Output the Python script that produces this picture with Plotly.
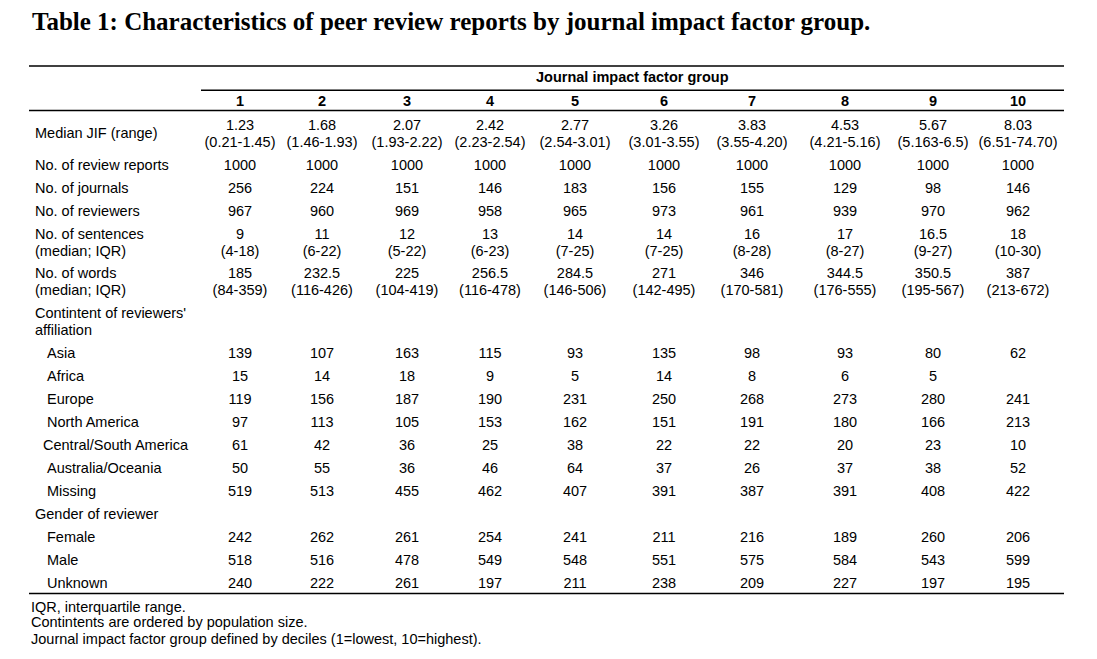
import plotly.graph_objects as go

# ---------------- data ----------------
groups = ["1", "2", "3", "4", "5", "6", "7", "8", "9", "10"]
median_jif = ["1.23", "1.68", "2.07", "2.42", "2.77", "3.26", "3.83", "4.53", "5.67", "8.03"]
jif_range = ["0.21-1.45", "1.46-1.93", "1.93-2.22", "2.23-2.54", "2.54-3.01",
             "3.01-3.55", "3.55-4.20", "4.21-5.16", "5.163-6.5", "6.51-74.70"]
n_reports = [1000, 1000, 1000, 1000, 1000, 1000, 1000, 1000, 1000, 1000]
n_journals = [256, 224, 151, 146, 183, 156, 155, 129, 98, 146]
n_reviewers = [967, 960, 969, 958, 965, 973, 961, 939, 970, 962]
sent_median = [9, 11, 12, 13, 14, 14, 16, 17, 16.5, 18]
sent_iqr = ["4-18", "6-22", "5-22", "6-23", "7-25", "7-25", "8-28", "8-27", "9-27", "10-30"]
words_median = [185, 232.5, 225, 256.5, 284.5, 271, 346, 344.5, 350.5, 387]
words_iqr = ["84-359", "116-426", "104-419", "116-478", "146-506",
             "142-495", "170-581", "176-555", "195-567", "213-672"]
asia = [139, 107, 163, 115, 93, 135, 98, 93, 80, 62]
africa = [15, 14, 18, 9, 5, 14, 8, 6, 5, None]
europe = [119, 156, 187, 190, 231, 250, 268, 273, 280, 241]
north_america = [97, 113, 105, 153, 162, 151, 191, 180, 166, 213]
central_south_america = [61, 42, 36, 25, 38, 22, 22, 20, 23, 10]
australia_oceania = [50, 55, 36, 46, 64, 37, 26, 37, 38, 52]
missing = [519, 513, 455, 462, 407, 391, 387, 391, 408, 422]
female = [242, 262, 261, 254, 241, 211, 216, 189, 260, 206]
male = [518, 516, 478, 549, 548, 551, 575, 584, 543, 599]
unknown = [240, 222, 261, 197, 211, 238, 209, 227, 197, 195]

title_text = "Table 1: Characteristics of peer review reports by journal impact factor group."
spanner_text = "Journal impact factor group"
footnotes = ["IQR, interquartile range.",
             "Contintents are ordered by population size.",
             "Journal impact factor group defined by deciles (1=lowest, 10=highest)."]


def fmt(v):
    if v is None:
        return ""
    if isinstance(v, float):
        return f"{v:g}"
    return str(v)


def paren(vals):
    return ["(" + v + ")" for v in vals]


# ---------------- layout (pixel positions of the page) ----------------
W, H = 1097, 659
OFF = 8  # page body margin of the browser
col_x = [240, 322, 407, 490, 575, 664, 752, 845, 933, 1018]
LABEL_X = 34
SUB_X = 46
FONT = "Liberation Sans, Arial, sans-serif"
FS = 14.5
DY = 1.2  # small vertical nudge of trace text relative to annotations

rows = [
    ([("Median JIF (range)", LABEL_X, 133.4)],
     [(125, median_jif), (141.7, paren(jif_range))]),
    ([("No. of review reports", LABEL_X, 165)], [(165, [fmt(v) for v in n_reports])]),
    ([("No. of journals", LABEL_X, 188.3)], [(188.3, [fmt(v) for v in n_journals])]),
    ([("No. of reviewers", LABEL_X, 211)], [(211, [fmt(v) for v in n_reviewers])]),
    ([("No. of sentences", LABEL_X, 234), ("(median; IQR)", LABEL_X, 250.7)],
     [(234, [fmt(v) for v in sent_median]), (250.7, paren(sent_iqr))]),
    ([("No. of words", LABEL_X, 273.3), ("(median; IQR)", LABEL_X, 290)],
     [(273.3, [fmt(v) for v in words_median]), (290, paren(words_iqr))]),
    ([("Contintent of reviewers'", LABEL_X, 313.3), ("affiliation", LABEL_X, 330)], []),
    ([("Asia", SUB_X, 352.7)], [(352.7, [fmt(v) for v in asia])]),
    ([("Africa", SUB_X, 376)], [(376, [fmt(v) for v in africa])]),
    ([("Europe", SUB_X, 399)], [(399, [fmt(v) for v in europe])]),
    ([("North America", SUB_X, 422)], [(422, [fmt(v) for v in north_america])]),
    ([("Central/South America", SUB_X - 4, 445)], [(445, [fmt(v) for v in central_south_america])]),
    ([("Australia/Oceania", SUB_X, 467.7)], [(467.7, [fmt(v) for v in australia_oceania])]),
    ([("Missing", SUB_X, 491)], [(491, [fmt(v) for v in missing])]),
    ([("Gender of reviewer", LABEL_X, 514)], []),
    ([("Female", SUB_X, 536.7)], [(536.7, [fmt(v) for v in female])]),
    ([("Male", SUB_X, 560)], [(560, [fmt(v) for v in male])]),
    ([("Unknown", SUB_X, 582.7)], [(582.7, [fmt(v) for v in unknown])]),
]

fig = go.Figure()

# column headers
fig.add_trace(go.Scatter(
    x=col_x, y=[101 + DY] * len(groups), text=[f"<b>{g}</b>" for g in groups],
    mode="text", textposition="middle center",
    textfont=dict(family=FONT, size=FS, color="black"),
    hoverinfo="skip", showlegend=False))

# body cells
for labels, vals in rows:
    for (y, texts) in vals:
        fig.add_trace(go.Scatter(
            x=col_x, y=[y + DY] * len(texts), text=texts,
            mode="text", textposition="middle center",
            textfont=dict(family=FONT, size=FS, color="black"),
            hoverinfo="skip", showlegend=False))

annotations = []
for labels, vals in rows:
    for (txt, lx, ly) in labels:
        annotations.append(dict(x=lx, y=ly, xref="x", yref="y", text=txt,
                                showarrow=False, xanchor="left", yanchor="middle",
                                font=dict(family=FONT, size=FS, color="black"),
                                borderpad=0))

annotations.append(dict(x=632, y=77, xref="x", yref="y", text=f"<b>{spanner_text}</b>",
                        showarrow=False, xanchor="center", yanchor="middle",
                        font=dict(family=FONT, size=FS, color="black"), borderpad=0))

annotations.append(dict(x=31, y=21.5, xref="x", yref="y", text=f"<b>{title_text}</b>",
                        showarrow=False, xanchor="left", yanchor="middle",
                        font=dict(family="Liberation Serif, Times New Roman, serif",
                                  size=25, color="black"), borderpad=0))

for i, (fn, fy) in enumerate(zip(footnotes, [606.7, 622.3, 638.7])):
    annotations.append(dict(x=30, y=fy, xref="x", yref="y", text=fn,
                            showarrow=False, xanchor="left", yanchor="middle",
                            font=dict(family=FONT, size=FS, color="black"),
                            borderpad=0))

shapes = []
for (x0, x1, y) in [(29, 1064, 66), (201, 1064, 90.3), (29, 1064, 110.5), (29, 1064, 593.5)]:
    shapes.append(dict(type="line", xref="x", yref="y", x0=x0, x1=x1, y0=y, y1=y,
                       line=dict(color="black", width=1.5)))

fig.update_layout(
    width=W, height=H,
    margin=dict(l=0, r=0, t=0, b=0),
    paper_bgcolor="white", plot_bgcolor="white",
    xaxis=dict(range=[OFF, W + OFF], visible=False, fixedrange=True),
    yaxis=dict(range=[H + OFF, OFF], visible=False, fixedrange=True),
    annotations=annotations, shapes=shapes,
)

fig.write_html("out.html")
